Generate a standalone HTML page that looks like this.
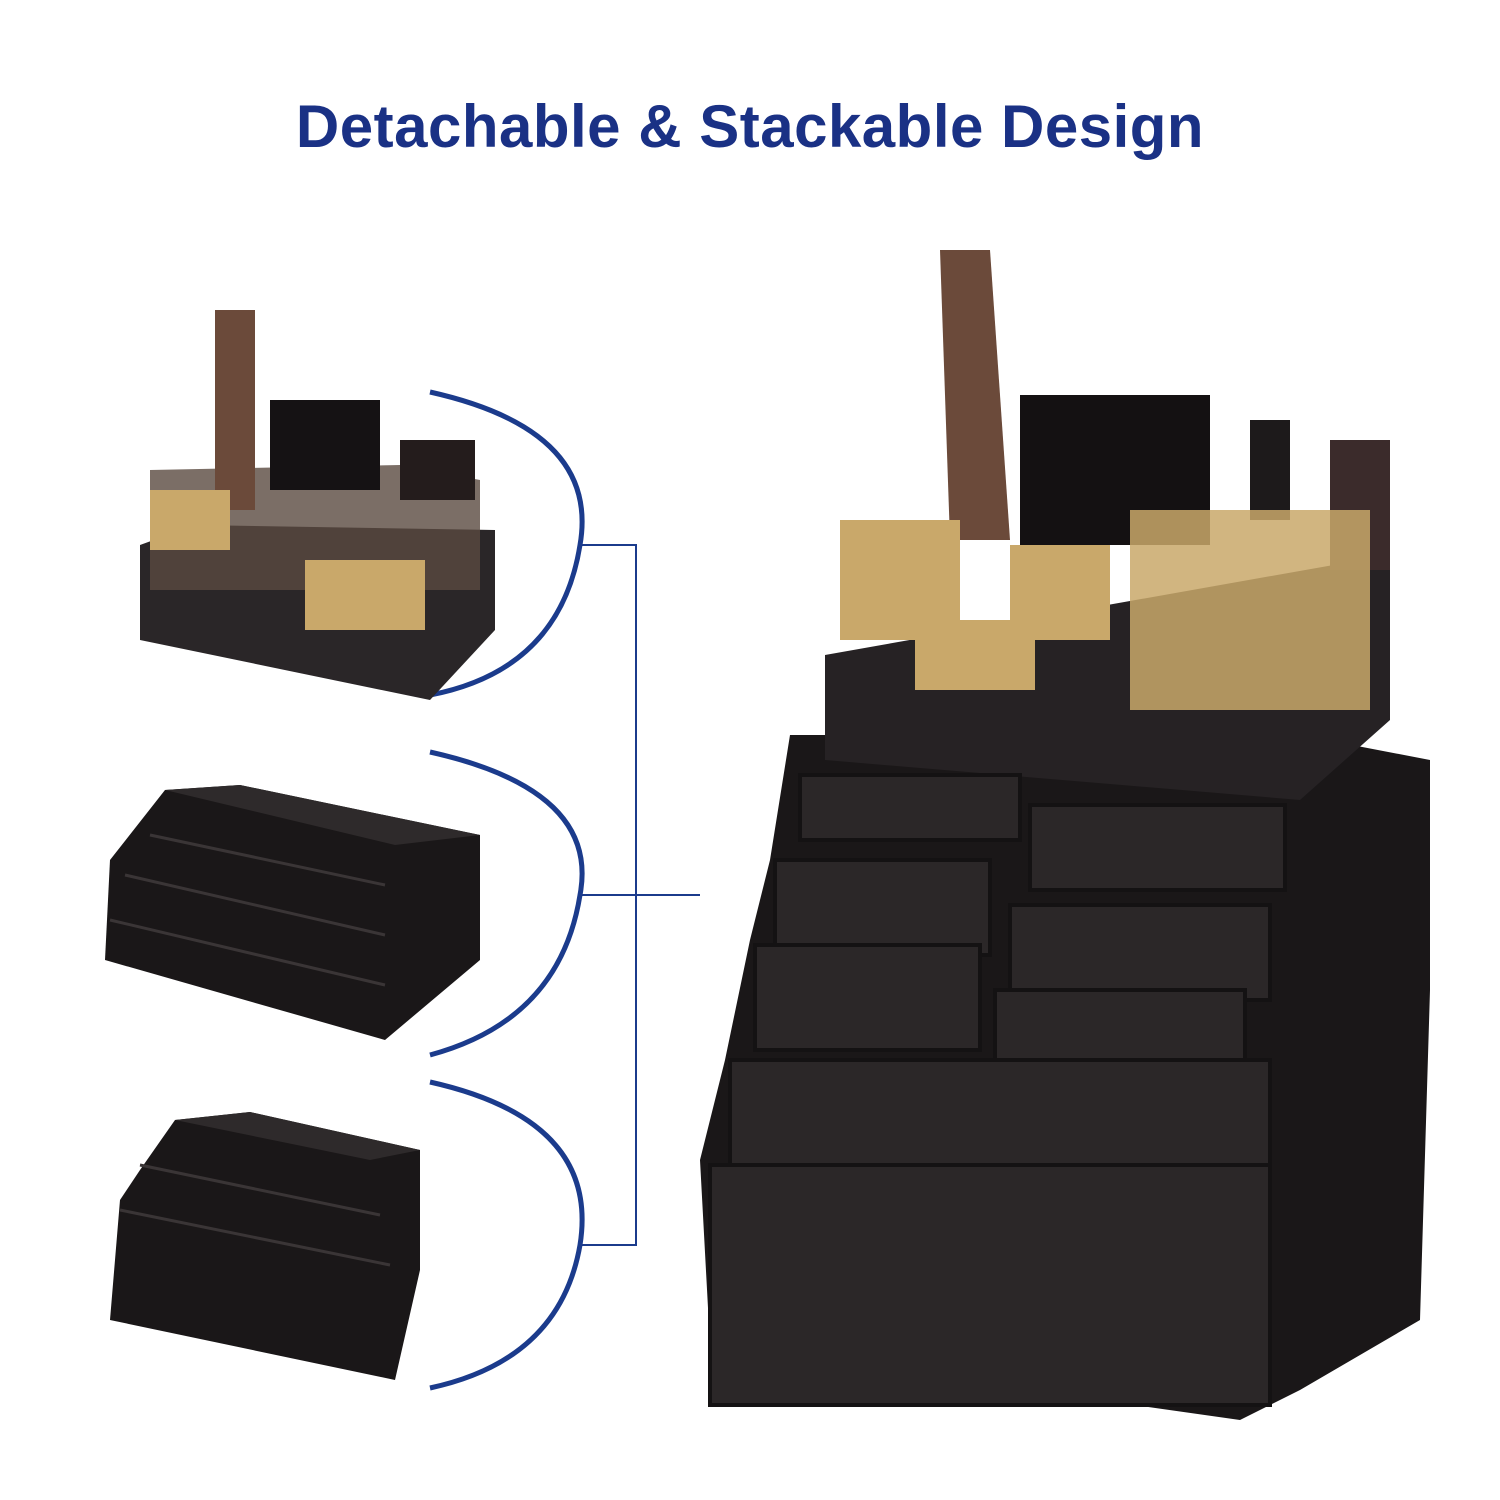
<!DOCTYPE html>
<html><head><meta charset="utf-8"><style>
html,body{margin:0;padding:0;background:#fff;}
body{width:1500px;height:1500px;position:relative;overflow:hidden;}
h1{position:absolute;left:0;top:92px;width:1500px;margin:0;text-align:center;font:bold 60px "Liberation Sans",sans-serif;color:#1a3185;letter-spacing:0.5px;}
svg{position:absolute;left:0;top:0;}
</style></head><body>
<h1>Detachable &amp; Stackable Design</h1>
<svg width="1500" height="1500" viewBox="0 0 1500 1500">
<g fill="none" stroke="#1b3b8c" stroke-width="5">
<path d="M430 392 Q600 430 580 545 Q560 670 430 695"/>
<path d="M430 752 Q600 790 580 895 Q560 1020 430 1055"/>
<path d="M430 1082 Q600 1120 580 1245 Q560 1360 430 1388"/>
</g>
<g fill="none" stroke="#1b3b8c" stroke-width="2">
<path d="M582 545 H636 V1245 H582 M582 895 H700"/>
</g>
<!-- top-left tray -->
<polygon points="140,545 195,525 495,530 495,630 430,700 140,640" fill="#2a2628"/>
<polygon points="150,470 400,465 480,480 480,590 150,590" fill="#5a4a40" opacity="0.8"/>
<rect x="215" y="310" width="40" height="200" fill="#6b4a3a"/>
<rect x="270" y="400" width="110" height="90" fill="#151214"/>
<rect x="400" y="440" width="75" height="60" fill="#241c1c"/>
<g fill="#c9a86a"><rect x="150" y="490" width="80" height="60"/><rect x="305" y="560" width="120" height="70"/></g>
<!-- middle-left drawers -->
<polygon points="165,790 240,785 480,835 480,960 385,1040 105,960 110,860" fill="#1a1718"/>
<polygon points="165,790 240,785 480,835 395,845" fill="#2e2a2b"/>
<g fill="none" stroke="#3a3536" stroke-width="3"><path d="M150 835 L385 885 M125 875 L385 935 M110 920 L385 985"/></g>
<!-- bottom-left drawers -->
<polygon points="175,1120 250,1112 420,1150 420,1270 395,1380 110,1320 120,1200 140,1170" fill="#1a1718"/>
<polygon points="175,1120 250,1112 420,1150 370,1160" fill="#2e2a2b"/>
<g fill="none" stroke="#3a3536" stroke-width="3"><path d="M140 1165 L380 1215 M120 1210 L390 1265"/></g>
<!-- right big stack -->
<polygon points="790,735 1300,735 1430,760 1430,990 1420,1320 1300,1390 1240,1420 710,1345 700,1160 725,1060 750,940 770,860" fill="#1a1718"/>
<polygon points="825,655 1390,555 1390,720 1300,800 825,760" fill="#262224"/>
<rect x="1020" y="395" width="190" height="150" fill="#141112"/>
<rect x="1250" y="420" width="40" height="100" fill="#1d1a1b"/>
<rect x="1330" y="440" width="60" height="130" fill="#3b2b2b"/>
<path d="M940 250 L990 250 L1010 540 L950 540 Z" fill="#6b4a3a"/>
<g fill="#c9a86a"><rect x="840" y="520" width="120" height="120"/><rect x="915" y="620" width="120" height="70"/><rect x="1010" y="545" width="100" height="95"/><rect x="1130" y="510" width="240" height="200" opacity="0.85"/></g>
<g fill="#2b2728" stroke="#141213" stroke-width="4"><rect x="800" y="775" width="220" height="65"/><rect x="1030" y="805" width="255" height="85"/><rect x="775" y="860" width="215" height="95"/><rect x="1010" y="905" width="260" height="95"/><rect x="755" y="945" width="225" height="105"/><rect x="995" y="990" width="250" height="100"/><rect x="730" y="1060" width="540" height="120"/><rect x="710" y="1165" width="560" height="240"/></g>
</svg>
</body></html>
